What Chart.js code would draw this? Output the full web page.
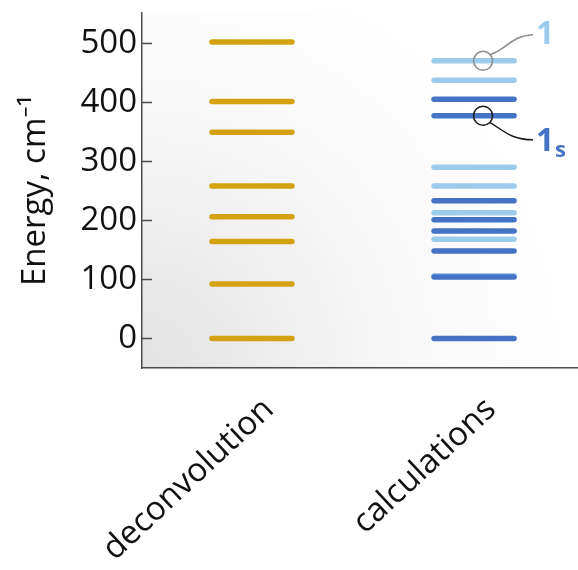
<!DOCTYPE html>
<html>
<head>
<meta charset="utf-8">
<script src="https://cdn.jsdelivr.net/npm/chart.js@4.4.0/dist/chart.umd.min.js"></script>
<style>
  html, body { margin: 0; padding: 0; background: #ffffff; }
  #wrap { width: 578px; height: 570px; }
</style>
</head>
<body>
<div id="wrap"><canvas id="c" width="578" height="570"></canvas></div>
<script>
const categories = ['deconvolution', 'calculations'];
const deconvolutionLevels = [0, 92, 164, 206, 258, 349, 401, 502];
const calc1sLevels = [0, 104, 148, 182, 201, 233, 377, 405];   // dark blue
const calc1Levels = [106, 168, 213, 258, 290, 437, 470];       // light blue
const yTicks = [0, 100, 200, 300, 400, 500];
const yTitle = 'Energy, cm\u207B\u00B9';
const label1Level = 470;
const label1sLevel = 377;

const GOLD = '#D4A210';
const LIGHT = '#9DCBEC';
const DARK = '#4472C4';
const FONT = "'Open Sans', 'Noto Sans', sans-serif";

function pts(cat, arr) { const i = categories.indexOf(cat); return arr.map(v => ({ x: i, y: v })); }

const bgPlugin = {
  id: 'bg',
  beforeDraw(chart) {
    const { ctx, chartArea: a } = chart;
    ctx.save();
    const g = ctx.createRadialGradient(a.left, a.bottom, 0, a.left, a.bottom, 420);
    g.addColorStop(0, '#e2e2e2');
    g.addColorStop(0.55, '#f6f6f6');
    g.addColorStop(1, '#ffffff');
    ctx.fillStyle = g;
    ctx.fillRect(a.left, a.top, a.right - a.left, a.bottom - a.top);
    ctx.restore();
  },
  beforeDatasetsDraw(chart) { chart.ctx.save(); chart.ctx.lineCap = 'round'; },
  afterDatasetsDraw(chart) { chart.ctx.restore(); },
  afterDraw(chart) {
    const { ctx, chartArea: a } = chart;
    const ys = chart.scales.y, xs = chart.scales.x;
    ctx.save();
    ctx.strokeStyle = '#4d4d4d';
    ctx.lineWidth = 1.5;
    yTicks.forEach(v => {
      const py = Math.round(ys.getPixelForValue(v)) + 0.5;
      ctx.beginPath(); ctx.moveTo(a.left, py); ctx.lineTo(a.left + 10, py); ctx.stroke();
    });
    const cx = xs.getPixelForValue(1) + 9;
    const y1 = ys.getPixelForValue(label1Level);
    const y2 = ys.getPixelForValue(label1sLevel);
    const r = 9.5;
    ctx.lineWidth = 1.5;
    ctx.strokeStyle = '#8c8c8c';
    ctx.beginPath(); ctx.arc(cx, y1, r, 0, Math.PI * 2); ctx.stroke();
    ctx.beginPath();
    ctx.moveTo(cx + r * 0.75, y1 - r * 0.65);
    ctx.bezierCurveTo(cx + 24, y1 - 12, cx + 28, y1 - 25, cx + 50, y1 - 26);
    ctx.stroke();
    ctx.strokeStyle = '#1a1a1a';
    ctx.beginPath(); ctx.arc(cx, y2, r, 0, Math.PI * 2); ctx.stroke();
    ctx.beginPath();
    ctx.moveTo(cx + r * 0.7, y2 + r * 0.7);
    ctx.bezierCurveTo(cx + 20, y2 + 14, cx + 27, y2 + 24, cx + 50, y2 + 24);
    ctx.stroke();
    ctx.textBaseline = 'alphabetic';
    ctx.textAlign = 'left';
    ctx.font = "bold 32px " + FONT;
    ctx.fillStyle = LIGHT;
    ctx.fillText('1', cx + 53, y1 - 17);
    ctx.fillStyle = DARK;
    ctx.fillText('1', cx + 53, y2 + 35);
    ctx.font = "bold 22px " + FONT;
    ctx.fillText('s', cx + 72, y2 + 41);
    ctx.restore();
  }
};

const pointCfg = { showLine: false, clip: false, pointStyle: 'line', pointRadius: 40, pointHoverRadius: 40, pointBorderWidth: 5.5, pointHoverBorderWidth: 5.5 };

new Chart(document.getElementById('c'), {
  type: 'scatter',
  data: {
    datasets: [
      Object.assign({ label: 'deconvolution', data: pts(categories[0], deconvolutionLevels), borderColor: GOLD, backgroundColor: GOLD }, pointCfg),
      Object.assign({ label: '1s', data: pts(categories[1], calc1sLevels), borderColor: DARK, backgroundColor: DARK }, pointCfg),
      Object.assign({ label: '1', data: pts(categories[1], calc1Levels), borderColor: LIGHT, backgroundColor: LIGHT }, pointCfg)
    ]
  },
  options: {
    responsive: false,
    animation: false,
    events: [],
    layout: { autoPadding: false, padding: { top: 13, right: 0, left: 0, bottom: 0 } },
    plugins: { legend: { display: false }, tooltip: { enabled: false } },
    scales: {
      x: {
        type: 'linear',
        min: -0.495, max: 1.468,
        grid: { display: true, drawOnChartArea: false, drawTicks: false },
        border: { display: true, color: '#4d4d4d', width: 1.5 },
        afterBuildTicks(s) { s.ticks = categories.map((c, i) => ({ value: i })); },
        ticks: {
          color: '#111', font: { family: FONT, size: 33 },
          callback: (v) => categories[v],
          minRotation: 43, maxRotation: 43, padding: 22, labelOffset: 17
        },
        afterFit(s) { s.height = 202; s.paddingLeft = 0; s.paddingRight = 0; }
      },
      y: {
        type: 'linear',
        min: -50, max: 551,
        grid: { display: true, drawOnChartArea: false, drawTicks: false },
        border: { display: true, color: '#4d4d4d', width: 1.5 },
        afterBuildTicks(s) { s.ticks = yTicks.map(v => ({ value: v })); },
        ticks: { color: '#111', font: { family: FONT, size: 33 }, padding: 5 },
        title: { display: true, text: yTitle, color: '#111', font: { family: FONT, size: 33 }, padding: { top: 16, bottom: 0 } },
        afterFit(s) { s.width = 142; s.paddingTop = 0; s.paddingBottom = 0; }
      }
    }
  },
  plugins: [bgPlugin]
});
</script>
</body>
</html>
